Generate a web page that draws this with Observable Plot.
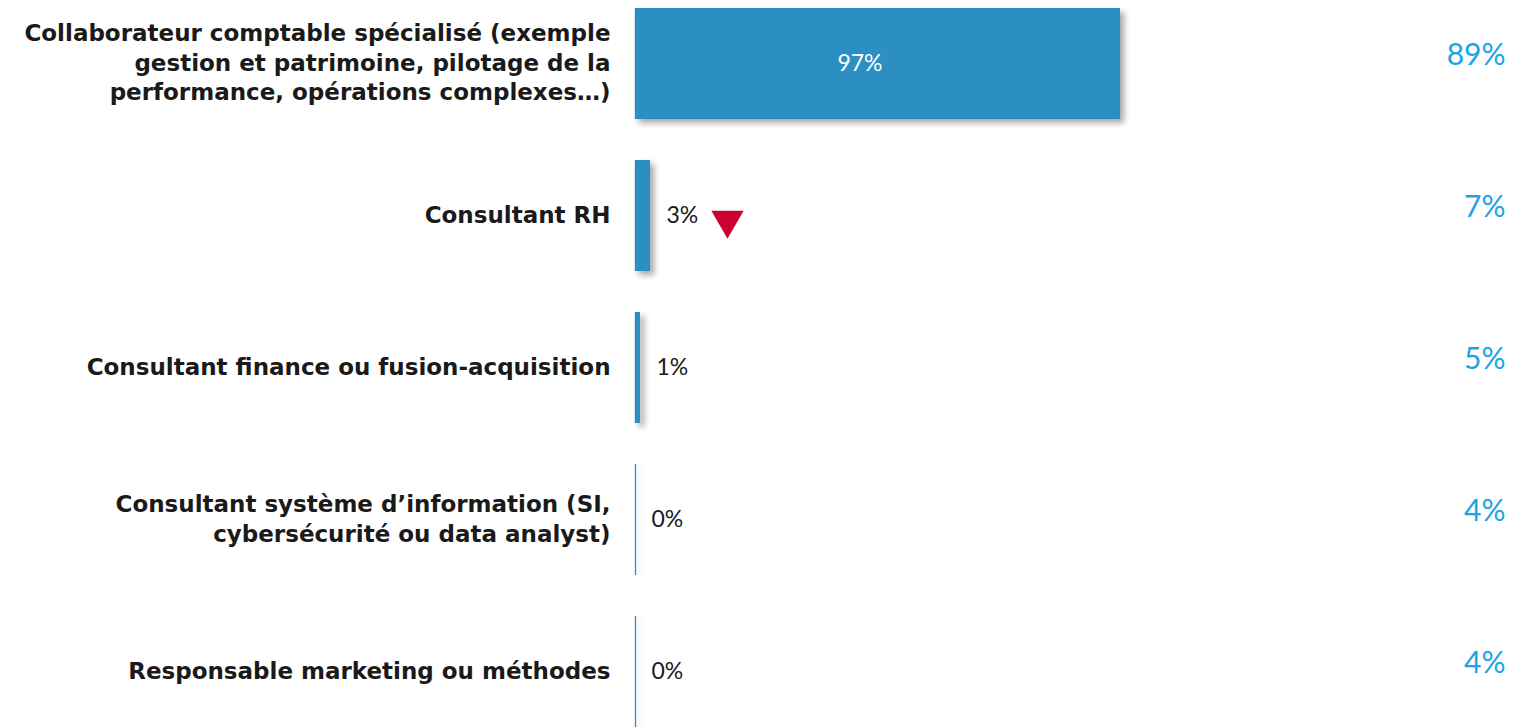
<!DOCTYPE html>
<html>
<head>
<meta charset="utf-8">
<script src="https://cdn.jsdelivr.net/npm/d3@7"></script>
<script src="https://cdn.jsdelivr.net/npm/@observablehq/plot@0.6"></script>
<style>
  html, body { margin: 0; padding: 0; background: #fff; }
  svg { overflow: visible; }
  svg g[aria-label="bar"] rect { filter: drop-shadow(4px 4px 3px rgba(0,0,0,0.35)); }
  svg g[aria-label="tick"] line { filter: drop-shadow(4px 2px 3px rgba(0,0,0,0.15)); }
</style>
</head>
<body>
<div id="chart"></div>
<script>
const categories = [
  "Collaborateur comptable spécialisé (exemple\ngestion et patrimoine, pilotage de la\nperformance, opérations complexes…)",
  "Consultant RH",
  "Consultant finance ou fusion-acquisition",
  "Consultant système d’information (SI,\ncybersécurité ou data analyst)",
  "Responsable marketing ou méthodes"
];
const values = [97, 3, 1, 0, 0];
const compareValues = [89, 7, 5, 4, 4];
const trend = [null, "down", null, null, null];

const data = categories.map((c, i) => ({cat: c, v: values[i], cmp: compareValues[i], trend: trend[i]}));
const barColor = "#2b8fc4";

const chart = Plot.plot({
  width: 1522,
  height: 727,
  marginLeft: 635,
  marginRight: 387,
  marginTop: 0,
  marginBottom: 0,
  x: {domain: [0, 100], axis: null},
  y: {domain: categories, axis: null, range: [6, 729], paddingInner: 0.27, paddingOuter: 0},
  marks: [
    Plot.tickX(data, {x: 0, y: "cat", stroke: barColor, strokeWidth: 1.3}),
    Plot.barX(data, {x: "v", y: "cat", fill: barColor}),
    Plot.text(data, {x: 0, y: "cat", text: "cat", textAnchor: "end", dx: -25, dy: -3, lineHeight: 1.3,
      fontFamily: "DejaVu Sans", fontWeight: "bold", fontSize: 23, fill: "#1a1a1a"}),
    Plot.text(data.filter(d => d.v >= 50), {x: d => d.v / 2, y: "cat", text: d => d.v + "%", dx: -18,
      fontFamily: "Lato", fontSize: 23, fill: "#ffffff"}),
    Plot.text(data.filter(d => d.v < 50), {x: "v", y: "cat", text: d => d.v + "%", textAnchor: "start", dx: 16,
      fontFamily: "Lato", fontSize: 23, fill: "#1a1a1a"}),
    Plot.dot(data.filter(d => d.trend === "down"), {x: "v", y: "cat", symbol: "triangle", rotate: 180, r: 12,
      dx: 77, dy: 4, fill: "#cc0033", stroke: null}),
    Plot.text(data, {x: 100, y: "cat", text: d => d.cmp + "%", textAnchor: "end", dx: 370, dy: -9,
      fontFamily: "Lato", fontSize: 30, fill: "#1aa3e6"})
  ]
});
document.getElementById("chart").appendChild(chart);
</script>
</body>
</html>
